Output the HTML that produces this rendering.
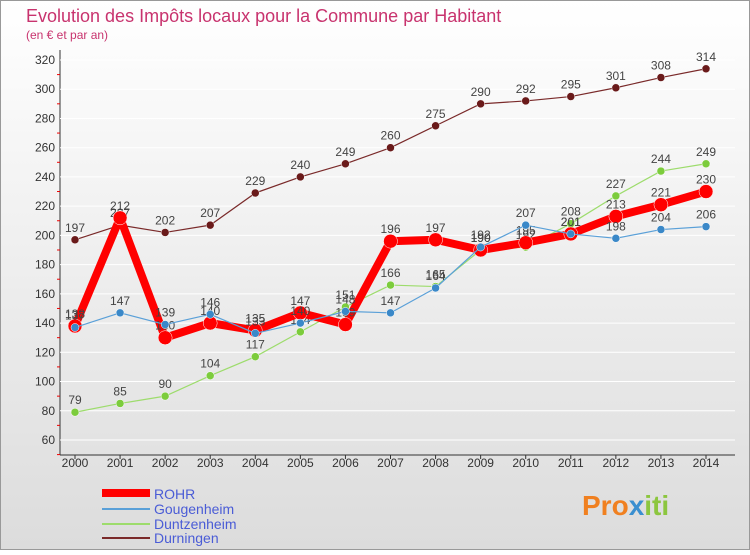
<!DOCTYPE html>
<html><head><meta charset="utf-8"><style>
body{margin:0;width:750px;height:550px;overflow:hidden;font-family:"Liberation Sans",sans-serif}
</style></head><body>
<svg id="c" width="750" height="550" xmlns="http://www.w3.org/2000/svg">
<defs><linearGradient id="bg" x1="0" y1="0" x2="0" y2="1"><stop offset="0" stop-color="#ffffff"/><stop offset="1" stop-color="#dcdcdc"/></linearGradient></defs>
<rect x="0.5" y="0.5" width="749" height="549" fill="url(#bg)" stroke="#999"/>
<text x="26" y="22" font-size="18" fill="#c8336e">Evolution des Impôts locaux pour la Commune par Habitant</text>
<text x="26" y="39" font-size="12" fill="#c8336e">(en € et par an)</text>
<g id="axes"></g><g id="series"></g>
<g>
<line x1="102" y1="493" x2="150" y2="493" stroke="#f00" stroke-width="8"/>
<text x="154" y="499" font-size="14" fill="#4a5cd6">ROHR</text>
<line x1="102" y1="509" x2="150" y2="509" stroke="#5aa0d8" stroke-width="2"/>
<text x="154" y="514" font-size="14" fill="#4a5cd6">Gougenheim</text>
<line x1="102" y1="524" x2="150" y2="524" stroke="#9ddc6c" stroke-width="2"/>
<text x="154" y="529" font-size="14" fill="#4a5cd6">Duntzenheim</text>
<line x1="102" y1="538" x2="150" y2="538" stroke="#7a2a2a" stroke-width="2"/>
<text x="154" y="543" font-size="14" fill="#4a5cd6">Durningen</text>
</g>
<text x="582" y="515" font-size="28" font-weight="bold" fill="#f08020">Pro<tspan fill="#3a8fd0">x</tspan><tspan fill="#8cc63f">iti</tspan></text>
</svg>
<script>
const years=[2000,2001,2002,2003,2004,2005,2006,2007,2008,2009,2010,2011,2012,2013,2014];
const yTicks=[60,80,100,120,140,160,180,200,220,240,260,280,300,320];
const rohr=[138,212,130,140,135,147,139,196,197,190,195,201,213,221,230];
const gougenheim=[137,147,139,146,133,140,148,147,164,192,207,201,198,204,206];
const duntzenheim=[79,85,90,104,117,134,151,166,165,190,192,208,227,244,249];
const durningen=[197,207,202,207,229,240,249,260,275,290,292,295,301,308,314];
const NS="http://www.w3.org/2000/svg";
const X0=75,X1=706,Y0=440,Y1=60,vmin=60,vmax=320;
const xs=i=>X0+(X1-X0)*i/(years.length-1);
const ys=v=>Y0-(Y0-Y1)*(v-vmin)/(vmax-vmin);
function mk(t,a,p){const e=document.createElementNS(NS,t);for(const k in a)e.setAttribute(k,a[k]);p.appendChild(e);return e;}
const ax=document.getElementById('axes');
const ag=mk('line',{x1:60,y1:50,x2:60,y2:455,stroke:'#333'},ax);


const bx=mk('line',{x1:60,y1:455,x2:735,y2:455,stroke:'#333'},ax);


yTicks.forEach(v=>{
 const g=mk('line',{x1:60,y1:ys(v),x2:735,y2:ys(v),stroke:'#fff','stroke-width':1},ax);
 
 
 const t=mk('text',{x:55,y:ys(v)+4,'font-size':12,'text-anchor':'end',fill:'#333'},ax);t.textContent=v;
 
 
 const m=mk('line',{x1:57,y1:ys(v)+14.6,x2:60,y2:ys(v)+14.6,stroke:'#e00'},ax);
 
 
});
years.forEach((y,i)=>{
 const t=mk('text',{x:xs(i),y:467,'font-size':12,'text-anchor':'middle',fill:'#333'},ax);t.textContent=y;
 
 
 const k=mk('line',{x1:xs(i),y1:455,x2:xs(i),y2:459,stroke:'#333'},ax);
 
 
});
const sg=document.getElementById('series');
function draw(data,name,col,w,r,dot){
 const g=mk('g',{},sg);
 
 
 const pl=mk('polyline',{points:data.map((v,i)=>xs(i)+','+ys(v)).join(' '),fill:'none',stroke:col,'stroke-width':w,'stroke-linejoin':'round'},g);
 
 
 data.forEach((v,i)=>{
  const c=mk('circle',{cx:xs(i),cy:ys(v),r:r,fill:dot,stroke:'#fff','stroke-width':0.5},g);
  
  
  const t=mk('text',{x:xs(i),y:ys(v)-8,'font-size':12,'text-anchor':'middle',fill:'#444'},g);t.textContent=v;
  
  
 });
}
draw(durningen,'durningen','#7a2a2a',1.2,4,'#6a1a1a');
draw(duntzenheim,'duntzenheim','#9ddc6c',1.2,4,'#7ccc3c');
draw(rohr,'rohr','#ff0000',8,7,'#ff0000');
draw(gougenheim,'gougenheim','#5aa0d8',1.2,4,'#3a88c8');
</script>
</body></html>
